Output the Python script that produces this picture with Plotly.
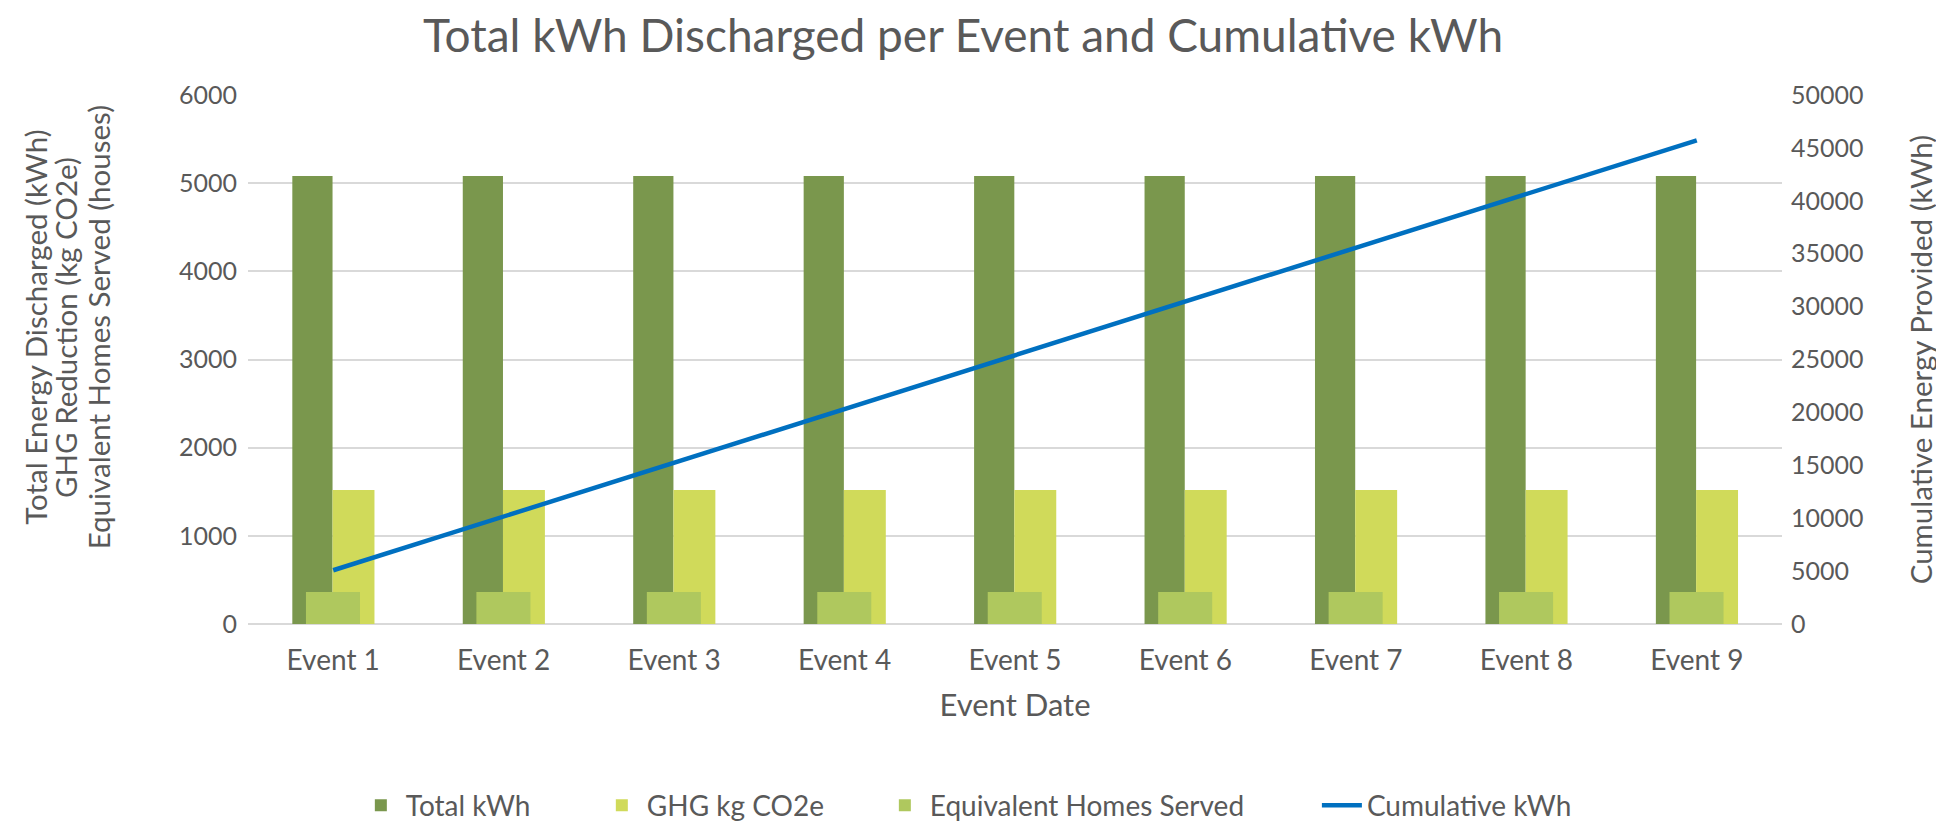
import plotly.graph_objects as go

events = ["Event 1", "Event 2", "Event 3", "Event 4", "Event 5",
          "Event 6", "Event 7", "Event 8", "Event 9"]
total_kwh = [5080, 5080, 5080, 5080, 5080, 5080, 5080, 5080, 5080]
ghg_kg = [1520, 1520, 1520, 1520, 1520, 1520, 1520, 1520, 1520]
homes_served = [364, 364, 364, 364, 364, 364, 364, 364, 364]
cumulative_kwh = [5080, 10160, 15240, 20320, 25400, 30480, 35560, 40640, 45720]

left_title_lines = ["Total Energy Discharged (kWh)",
                    "GHG Reduction (kg CO2e)",
                    "Equivalent Homes Served (houses)"]
right_title = "Cumulative Energy Provided (kWh)"

FONT = "Lato"
GREY = "#595959"

fig = go.Figure()
fig.add_trace(go.Bar(x=events, y=total_kwh, name="Total kWh",
                     marker=dict(color="#7A974D", line=dict(width=0)),
                     offset=-0.24, width=0.236, legend="legend"))
fig.add_trace(go.Bar(x=events, y=ghg_kg, name="GHG kg CO2e",
                     marker=dict(color="#D0DA5A", line=dict(width=0)),
                     offset=-0.004, width=0.246, legend="legend2"))
fig.add_trace(go.Bar(x=events, y=homes_served, name="Equivalent Homes Served",
                     marker=dict(color="#AFC85E", line=dict(width=0)),
                     offset=-0.16, width=0.317, legend="legend3"))
fig.add_trace(go.Scatter(x=events, y=cumulative_kwh, name="Cumulative kWh",
                         mode="lines", yaxis="y2", legend="legend4",
                         line=dict(color="#0070C0", width=4.5)))

legend_common = dict(orientation="h", xanchor="left", y=-0.343, yanchor="middle",
                     font=dict(family=FONT, size=28, color=GREY),
                     itemwidth=40, bgcolor="rgba(0,0,0,0)")

annotations = []
for xp, txt in zip([-0.1382, -0.1185, -0.0974], left_title_lines):
    annotations.append(dict(text=txt, xref="paper", yref="paper", x=xp, y=0.56,
                            xanchor="center", yanchor="middle", textangle=-90,
                            showarrow=False,
                            font=dict(family=FONT, size=29.5, color=GREY)))
annotations.append(dict(text=right_title, xref="paper", yref="paper", x=1.0905, y=0.5,
                        xanchor="center", yanchor="middle", textangle=-90,
                        showarrow=False,
                        font=dict(family=FONT, size=29.5, color=GREY)))

fig.update_layout(
    width=1944, height=823,
    barmode="overlay",
    paper_bgcolor="white", plot_bgcolor="white",
    margin=dict(l=240, r=170, t=87, b=207, autoexpand=False),
    font=dict(family=FONT, color=GREY, size=23),
    title=dict(text="Total kWh Discharged per Event and Cumulative kWh",
               x=0.4913, xanchor="center", y=0.966, yanchor="middle",
               font=dict(family=FONT, size=46, color=GREY)),
    xaxis=dict(title=dict(text="Event Date", standoff=19,
                          font=dict(family=FONT, size=31, color=GREY)),
               tickfont=dict(family=FONT, size=28, color=GREY),
               ticklabelstandoff=17,
               showgrid=False, showline=False, ticks="", automargin=False),
    yaxis=dict(range=[0, 6000], dtick=1000, tickformat="d",
               showgrid=True, gridcolor="#D9D9D9", gridwidth=1.5,
               zeroline=True, zerolinecolor="#D9D9D9", zerolinewidth=1.5,
               showline=False, ticks="", ticklabelstandoff=10,
               tickfont=dict(family=FONT, size=25, color=GREY), automargin=False),
    yaxis2=dict(range=[0, 50000], dtick=5000, tickformat="d",
                overlaying="y", side="right", showgrid=False, zeroline=False,
                showline=False, ticks="", ticklabelstandoff=8,
                tickfont=dict(family=FONT, size=25, color=GREY), automargin=False),
    legend=dict(x=0.0703, **legend_common),
    legend2=dict(x=0.2274, **legend_common),
    legend3=dict(x=0.4119, **legend_common),
    legend4=dict(x=0.6968, **legend_common),
    annotations=annotations,
    showlegend=True,
)

fig.write_html("out.html")
